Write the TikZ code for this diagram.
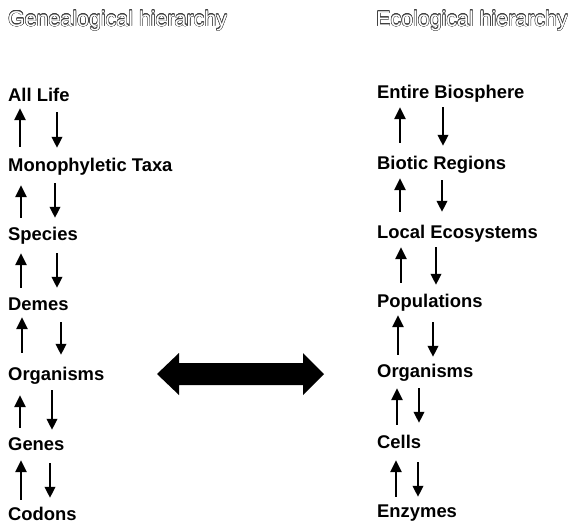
\documentclass[tikz,border=0pt]{standalone}
\usepackage{fontspec}
\setmainfont{Liberation Sans}
\usepackage{contour}
\contourlength{0.45pt}
\usetikzlibrary{arrows.meta}
\tikzset{
  lvl/.style={anchor=base west, inner sep=0pt, text height=13pt, text depth=4pt,
    font=\bfseries\fontsize{18.4}{20}\selectfont},
  hdr/.style={inner sep=0pt, font=\fontsize{21.4}{24}\selectfont},
  uparr/.style={line width=2.4pt, -{Triangle[width=11pt,length=12pt]}},
  dnarr/.style={line width=2.1pt, -{Triangle[width=10.5pt,length=11pt]}},
  bigarr/.style={fill=black}
}
\newcommand\outl[1]{\contour{black!75}{\textcolor{white}{#1}}}
\begin{document}
\begin{tikzpicture}[x=1pt,y=-1pt]
\useasboundingbox (0,0) rectangle (571,523);
% headers
\node[hdr, anchor=base west] (hgl) at (8,26) {\outl{Genealogical hierarchy}};
\node[hdr, anchor=base east] (hgr) at (568,26) {\outl{Ecological hierarchy}};
% left column
\node[lvl] (l1) at (8,101) {All Life};
\node[lvl] (l2) at (8,171) {Monophyletic Taxa};
\node[lvl] (l3) at (8,240) {Species};
\node[lvl] (l4) at (8,310) {Demes};
\node[lvl] (l5) at (8,380) {Organisms};
\node[lvl] (l6) at (8,450) {Genes};
\node[lvl] (l7) at (8,520) {Codons};
% right column
\node[lvl] (r1) at (377,98) {Entire Biosphere};
\node[lvl] (r2) at (377,169) {Biotic Regions};
\node[lvl] (r3) at (377,238) {Local Ecosystems};
\node[lvl] (r4) at (377,307) {Populations};
\node[lvl] (r5) at (377,377) {Organisms};
\node[lvl] (r6) at (377,448) {Cells};
\node[lvl] (r7) at (377,517) {Enzymes};
% left arrows
\draw[uparr] ([shift={(12,-11)}]l2.north west) -- ([shift={(12,3)}]l1.south west);
\draw[dnarr] ([shift={(49,7)}]l1.south west) -- ([shift={(49,-10)}]l2.north west);
\draw[uparr] ([shift={(13,-9)}]l3.north west) -- ([shift={(13,10)}]l2.south west);
\draw[dnarr] ([shift={(47,8)}]l2.south west) -- ([shift={(47,-9)}]l3.north west);
\draw[uparr] ([shift={(13,-9)}]l4.north west) -- ([shift={(13,9)}]l3.south west);
\draw[dnarr] ([shift={(49,9)}]l3.south west) -- ([shift={(49,-9)}]l4.north west);
\draw[uparr] ([shift={(14,-14)}]l5.north west) -- ([shift={(14,3)}]l4.south west);
\draw[dnarr] ([shift={(53,8)}]l4.south west) -- ([shift={(53,-12)}]l5.north west);
\draw[uparr] ([shift={(12,-9)}]l6.north west) -- ([shift={(12,11)}]l5.south west);
\draw[dnarr] ([shift={(44,6)}]l5.south west) -- ([shift={(44,-7)}]l6.north west);
\draw[uparr] ([shift={(13,-7)}]l7.north west) -- ([shift={(13,6)}]l6.south west);
\draw[dnarr] ([shift={(42,9)}]l6.south west) -- ([shift={(42,-9)}]l7.north west);
% right arrows
\draw[uparr] ([shift={(23,-13)}]r2.north west) -- ([shift={(23,5)}]r1.south west);
\draw[dnarr] ([shift={(66,5)}]r1.south west) -- ([shift={(66,-10)}]r2.north west);
\draw[uparr] ([shift={(23,-13)}]r3.north west) -- ([shift={(23,5)}]r2.south west);
\draw[dnarr] ([shift={(65,7)}]r2.south west) -- ([shift={(65,-13)}]r3.north west);
\draw[uparr] ([shift={(24,-11)}]r4.north west) -- ([shift={(24,5)}]r3.south west);
\draw[dnarr] ([shift={(59,5)}]r3.south west) -- ([shift={(59,-9)}]r4.north west);
\draw[uparr] ([shift={(21,-9)}]r5.north west) -- ([shift={(21,4)}]r4.south west);
\draw[dnarr] ([shift={(56,11)}]r4.south west) -- ([shift={(56,-7)}]r5.north west);
\draw[uparr] ([shift={(20,-10)}]r6.north west) -- ([shift={(20,7)}]r5.south west);
\draw[dnarr] ([shift={(42,7)}]r5.south west) -- ([shift={(42,-12)}]r6.north west);
\draw[uparr] ([shift={(19,-7)}]r7.north west) -- ([shift={(19,8)}]r6.south west);
\draw[dnarr] ([shift={(41,10)}]r6.south west) -- ([shift={(41,-7)}]r7.north west);
% big double arrow between the two Organisms levels
\coordinate (dl) at (157,374);
\coordinate (dr) at (324,374);
\fill[bigarr] (dl) -- ++(22,-21) -- ++(0,10) -- ([shift={(-21,-11)}]dr) -- ++(0,-10)
  -- (dr) -- ++(-21,21) -- ++(0,-10) -- ([shift={(22,11)}]dl) -- ++(0,10) -- cycle;
\end{tikzpicture}
\end{document}
